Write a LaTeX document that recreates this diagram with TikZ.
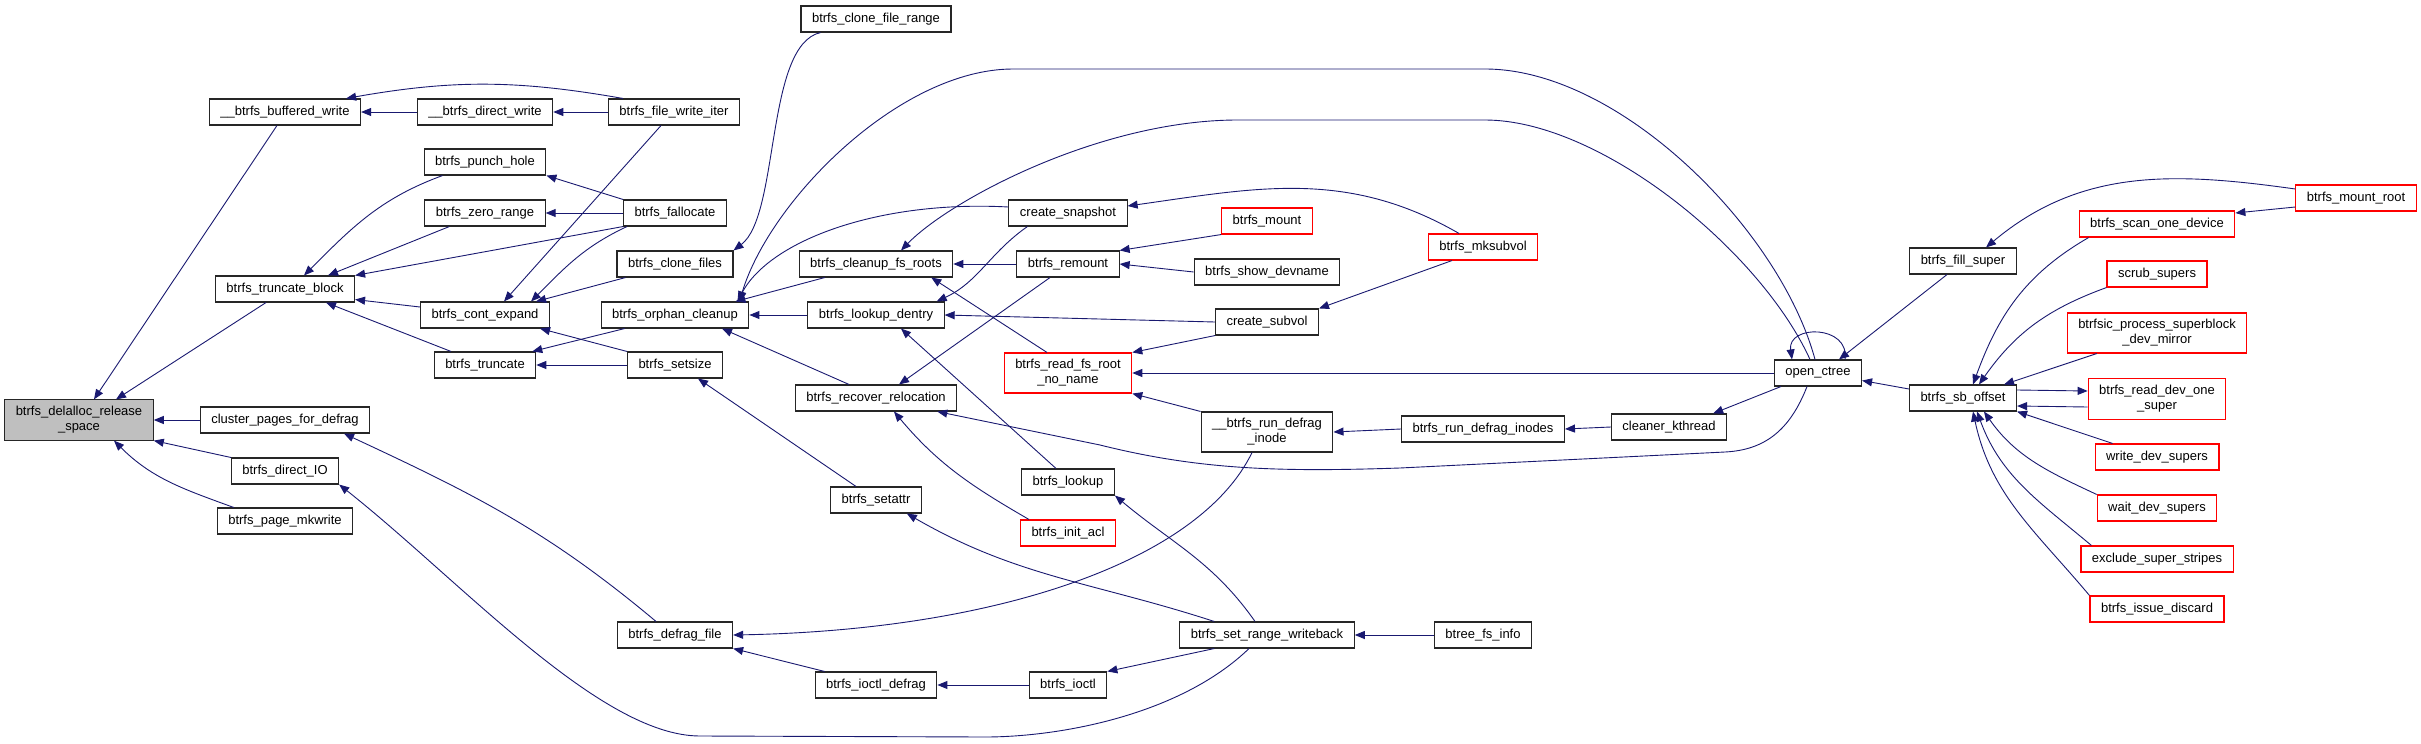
\documentclass[tikz,border=0pt]{standalone}
\usepackage{fontspec}
\setmainfont{Liberation Sans}
\usepackage{xcolor}
\usepackage{tikz}
\usetikzlibrary{arrows.meta,positioning,calc}

\definecolor{edgeblue}{HTML}{191970}
\definecolor{rootgray}{HTML}{BFBFBF}

\begin{document}
\begin{tikzpicture}[x=1pt, y=-1pt,
        fnbox/.style={rectangle, draw=black!85, fill=white, line width=1.1pt, minimum height=26pt, inner xsep=11pt, inner ysep=6.5pt, align=center, font=\fontsize{13}{15}\selectfont},
        rootbox/.style={fnbox, fill=rootgray},
        redbox/.style={fnbox, draw=red},
        arrow/.style={-{Triangle[length=10pt,width=8pt,fill=edgeblue]}, draw=edgeblue, line width=0.9pt}
    ]
    \useasboundingbox (0,0) rectangle (2421,744);

    % Root function
    \node[rootbox] (delalloc) at (79,420) {btrfs\_delalloc\_release\\\_space};

    % Direct callers
    \node[fnbox] (bufwrite) at (285,112) {\_\_btrfs\_buffered\_write};
    \node[fnbox] (truncblock) at (285,289) {btrfs\_truncate\_block};
    \node[fnbox] (cluster) at (285,420) {cluster\_pages\_for\_defrag};
    \node[fnbox] (directio) at (285,471) {btrfs\_direct\_IO};
    \node[fnbox] (mkwrite) at (285,521) {btrfs\_page\_mkwrite};

    % Third column
    \node[fnbox] (dirwrite) at (485,112) {\_\_btrfs\_direct\_write};
    \node[fnbox] (punchhole) at (485,162) {btrfs\_punch\_hole};
    \node[fnbox] (zerorange) at (485,213) {btrfs\_zero\_range};
    \node[fnbox] (contexpand) at (485,315) {btrfs\_cont\_expand};
    \node[fnbox] (truncate) at (485,365) {btrfs\_truncate};

    % Fourth column
    \node[fnbox] (writeiter) at (674,112) {btrfs\_file\_write\_iter};
    \node[fnbox] (fallocate) at (675,213) {btrfs\_fallocate};
    \node[fnbox] (clonefiles) at (675,264) {btrfs\_clone\_files};
    \node[fnbox] (orphan) at (675,315) {btrfs\_orphan\_cleanup};
    \node[fnbox] (setsize) at (675,365) {btrfs\_setsize};
    \node[fnbox] (defragfile) at (675,635) {btrfs\_defrag\_file};

    % Fifth column
    \node[fnbox] (clonerange) at (876,19) {btrfs\_clone\_file\_range};
    \node[fnbox] (cleanuproots) at (876,264) {btrfs\_cleanup\_fs\_roots};
    \node[fnbox] (lookupdentry) at (876,315) {btrfs\_lookup\_dentry};
    \node[fnbox] (recover) at (876,398) {btrfs\_recover\_relocation};
    \node[fnbox] (setattr) at (876,500) {btrfs\_setattr};
    \node[fnbox] (ioctldefrag) at (876,685) {btrfs\_ioctl\_defrag};

    % Sixth column
    \node[fnbox] (snapshot) at (1068,213) {create\_snapshot};
    \node[fnbox] (remount) at (1068,264) {btrfs\_remount};
    \node[redbox] (readroot) at (1068,373) {btrfs\_read\_fs\_root\\\_no\_name};
    \node[fnbox] (lookup) at (1068,482) {btrfs\_lookup};
    \node[redbox] (initacl) at (1068,533) {btrfs\_init\_acl};
    \node[fnbox] (ioctl) at (1068,685) {btrfs\_ioctl};

    % Seventh column
    \node[redbox] (mount) at (1267,221) {btrfs\_mount};
    \node[fnbox] (showdev) at (1267,272) {btrfs\_show\_devname};
    \node[fnbox] (subvol) at (1267,322) {create\_subvol};
    \node[fnbox] (rundefrag) at (1267,432) {\_\_btrfs\_run\_defrag\\\_inode};
    \node[fnbox] (rangewb) at (1267,635) {btrfs\_set\_range\_writeback};

    % Eighth and ninth columns
    \node[redbox] (mksubvol) at (1483,247) {btrfs\_mksubvol};
    \node[fnbox] (rundefrags) at (1483,429) {btrfs\_run\_defrag\_inodes};
    \node[fnbox] (btreeinfo) at (1483,635) {btree\_fs\_info};
    \node[fnbox] (cleaner) at (1669,427) {cleaner\_kthread};

    % open_ctree and its callers
    \node[fnbox] (openctree) at (1818,373) {open\_ctree};
    \node[fnbox] (fillsuper) at (1963,261) {btrfs\_fill\_super};
    \node[fnbox] (sboffset) at (1963,398) {btrfs\_sb\_offset};
    \node[redbox] (mountroot) at (2356,198) {btrfs\_mount\_root};

    % Callers of btrfs_sb_offset
    \node[redbox] (scandev) at (2157,224) {btrfs\_scan\_one\_device};
    \node[redbox] (scrub) at (2157,274) {scrub\_supers};
    \node[redbox] (btrfsic) at (2157,333) {btrfsic\_process\_superblock\\\_dev\_mirror};
    \node[redbox] (readdev) at (2157,399) {btrfs\_read\_dev\_one\\\_super};
    \node[redbox] (writedev) at (2157,457) {write\_dev\_supers};
    \node[redbox] (waitdev) at (2157,508) {wait\_dev\_supers};
    \node[redbox] (exclude) at (2157,559) {exclude\_super\_stripes};
    \node[redbox] (discard) at (2157,609) {btrfs\_issue\_discard};

    % Arrows into the root
    \draw[arrow] ([xshift=-8pt]bufwrite.south) -- ([xshift=15pt]delalloc.north);
    \draw[arrow] ([xshift=-19pt]truncblock.south) -- ([xshift=37pt]delalloc.north);
    \draw[arrow] (cluster.west) -- (delalloc.east);
    \draw[arrow] (directio.north west) -- (delalloc.south east);
    \draw[arrow] ([xshift=17pt]mkwrite.north west) to[out=160,in=-45] ([xshift=35pt]delalloc.south);

    % Write and truncate paths
    \draw[arrow] (dirwrite.west) -- (bufwrite.east);
    \draw[arrow] ([xshift=15pt]writeiter.north west) to[out=170,in=10] ([xshift=-15pt]bufwrite.north east);
    \draw[arrow] (writeiter.west) -- (dirwrite.east);
    \draw[arrow] ([xshift=19pt]punchhole.south west) to[out=200,in=45] ([xshift=19pt]truncblock.north);
    \draw[arrow] ([xshift=25pt]zerorange.south west) -- ([xshift=43pt]truncblock.north);
    \draw[arrow] (fallocate.south west) -- (truncblock.north east);
    \draw[arrow] ([yshift=8pt]contexpand.west) -- ([yshift=3pt]truncblock.south east);
    \draw[arrow] ([xshift=-34pt]truncate.north) -- ([xshift=41pt]truncblock.south);
    \draw[arrow] (fallocate.north west) -- (punchhole.south east);
    \draw[arrow] (fallocate.west) -- (zerorange.east);
    \draw[arrow] ([xshift=-13pt]writeiter.south) -- ([xshift=19pt]contexpand.north);
    \draw[arrow] ([xshift=4pt]fallocate.south west) to[out=205,in=45] ([xshift=-19pt]contexpand.north east);
    \draw[arrow] ([xshift=9pt]clonefiles.south west) -- ([xshift=-14pt]contexpand.north east);
    \draw[arrow] (setsize.north west) -- ([xshift=-10pt]contexpand.south east);
    \draw[arrow] ([xshift=24pt]orphan.south west) -- ([xshift=-4pt]truncate.north east);
    \draw[arrow] (setsize.west) -- (truncate.east);
    \draw[arrow] ([xshift=20pt]clonerange.south west) .. controls (765,45) and (780,215) .. (clonefiles.north east);
    \draw[arrow] ([xshift=-20pt]setattr.north) -- ([xshift=23pt]setsize.south);

    % Defrag paths
    \draw[arrow] ([xshift=-19pt]defragfile.north) to[out=140,in=-25] ([xshift=59pt]cluster.south);
    \draw[arrow] ([xshift=-18pt]rangewb.south) .. controls (1180,715) and (1060,737) .. (985,737) -- (700,736) .. controls (600,736) and (460,580) .. (directio.south east);
    \draw[arrow] ([xshift=-15pt]rundefrag.south) .. controls (1200,560) and (1000,630) .. (defragfile.east);
    \draw[arrow] ([xshift=10pt]ioctldefrag.north west) -- (defragfile.south east);

    % Orphan cleanup callers
    \draw[arrow] ([xshift=26pt]cleanuproots.south west) -- ([xshift=-14pt]orphan.north east);
    \draw[arrow] (lookupdentry.west) -- (orphan.east);
    \draw[arrow] ([yshift=6pt]snapshot.west) .. controls (880,200) and (770,240) .. ([xshift=-12pt]orphan.north east);
    \draw[arrow] ([xshift=-3pt]openctree.north) .. controls (1780,230) and (1620,69) .. (1485,69) -- (1013,69) .. controls (900,69) and (770,200) .. ([xshift=-10pt]orphan.north east);
    \draw[arrow] ([xshift=-27pt]recover.north) -- ([xshift=47pt]orphan.south);

    % Cleanup, lookup and relocation callers
    \draw[arrow] (remount.west) -- (cleanuproots.east);
    \draw[arrow] ([xshift=-8pt]openctree.north) .. controls (1760,250) and (1600,120) .. (1485,120) -- (1238,120) .. controls (1100,120) and (950,200) .. ([xshift=25pt]cleanuproots.north);
    \draw[arrow] ([xshift=-21pt]readroot.north) -- ([xshift=-22pt]cleanuproots.south east);
    \draw[arrow] ([xshift=19pt]snapshot.south west) to[out=215,in=25] ([xshift=-8pt]lookupdentry.north east);
    \draw[arrow] (subvol.west) -- (lookupdentry.east);
    \draw[arrow] ([xshift=-12pt]lookup.north) -- ([xshift=25pt]lookupdentry.south);
    \draw[arrow] ([xshift=-18pt]remount.south) -- ([xshift=23pt]recover.north);
    \draw[arrow] ([xshift=-11pt]openctree.south) .. controls (1790,430) and (1765,450) .. (1725,452) -- (1400,468) .. controls (1280,472) and (1200,470) .. (1100,445) -- ([xshift=-20pt]recover.south east);
    \draw[arrow] ([xshift=9pt]initacl.north west) to[out=150,in=-50] ([xshift=18pt]recover.south);

    % Remount, read root and subvolume callers
    \draw[arrow] (mount.south west) -- (remount.north east);
    \draw[arrow] (showdev.west) -- (remount.east);
    \draw[arrow] (subvol.south west) -- (readroot.north east);
    \draw[arrow] (openctree.west) -- (readroot.east);
    \draw[arrow] (rundefrag.north west) -- (readroot.south east);
    \draw[arrow] ([xshift=-24pt]mksubvol.north) to[out=150,in=8] ([yshift=7pt]snapshot.east);
    \draw[arrow] ([xshift=-31pt]mksubvol.south) -- (subvol.north east);
    \draw[arrow] (rundefrags.west) -- (rundefrag.east);

    % Range writeback callers
    \draw[arrow] ([xshift=-12pt]rangewb.north) to[out=125,in=-40] (lookup.south east);
    \draw[arrow] ([xshift=35pt]rangewb.north west) to[out=162,in=-30] ([xshift=-15pt]setattr.south east);
    \draw[arrow] ([xshift=35pt]rangewb.south west) -- (ioctl.north east);
    \draw[arrow] (ioctl.west) -- (ioctldefrag.east);
    \draw[arrow] (btreeinfo.west) -- (rangewb.east);

    % open_ctree
    \draw[arrow] (cleaner.west) -- (rundefrags.east);
    \draw[arrow] ([xshift=7pt]openctree.south west) -- ([xshift=-14pt]cleaner.north east);
    \draw[arrow] ([xshift=27pt]openctree.north) .. controls +(5,-35) and +(-5,-35) .. ([xshift=-26pt]openctree.north);
    \draw[arrow] ([xshift=-16pt]fillsuper.south) -- ([xshift=21pt]openctree.north);
    \draw[arrow] ([yshift=9pt]sboffset.west) -- ([yshift=6pt]openctree.south east);
    \draw[arrow] ([yshift=9pt]mountroot.west) to[out=172,in=40] ([xshift=23pt]fillsuper.north);
    \draw[arrow] ([yshift=-9pt]mountroot.west) -- ([yshift=11pt]scandev.east);

    % btrfs_sb_offset callers
    \draw[arrow] ([xshift=10pt]scandev.south west) to[out=210,in=70] ([xshift=10pt]sboffset.north);
    \draw[arrow] (scrub.south west) to[out=200,in=55] ([xshift=16pt]sboffset.north);
    \draw[arrow] ([xshift=30pt]btrfsic.south west) -- ([xshift=-13pt]sboffset.north east);
    \draw[arrow] ([yshift=8pt]sboffset.east) -- ([yshift=8pt]readdev.west);
    \draw[arrow] ([yshift=-8pt]readdev.west) -- ([yshift=-8pt]sboffset.east);
    \draw[arrow] ([xshift=18pt]writedev.north west) -- (sboffset.south east);
    \draw[arrow] (waitdev.north west) to[out=155,in=-55] ([xshift=21pt]sboffset.south);
    \draw[arrow] ([xshift=11pt]exclude.north west) to[out=140,in=-70] ([xshift=14pt]sboffset.south);
    \draw[arrow] (discard.north west) to[out=130,in=-78] ([xshift=10pt]sboffset.south);

\end{tikzpicture}
\end{document}
